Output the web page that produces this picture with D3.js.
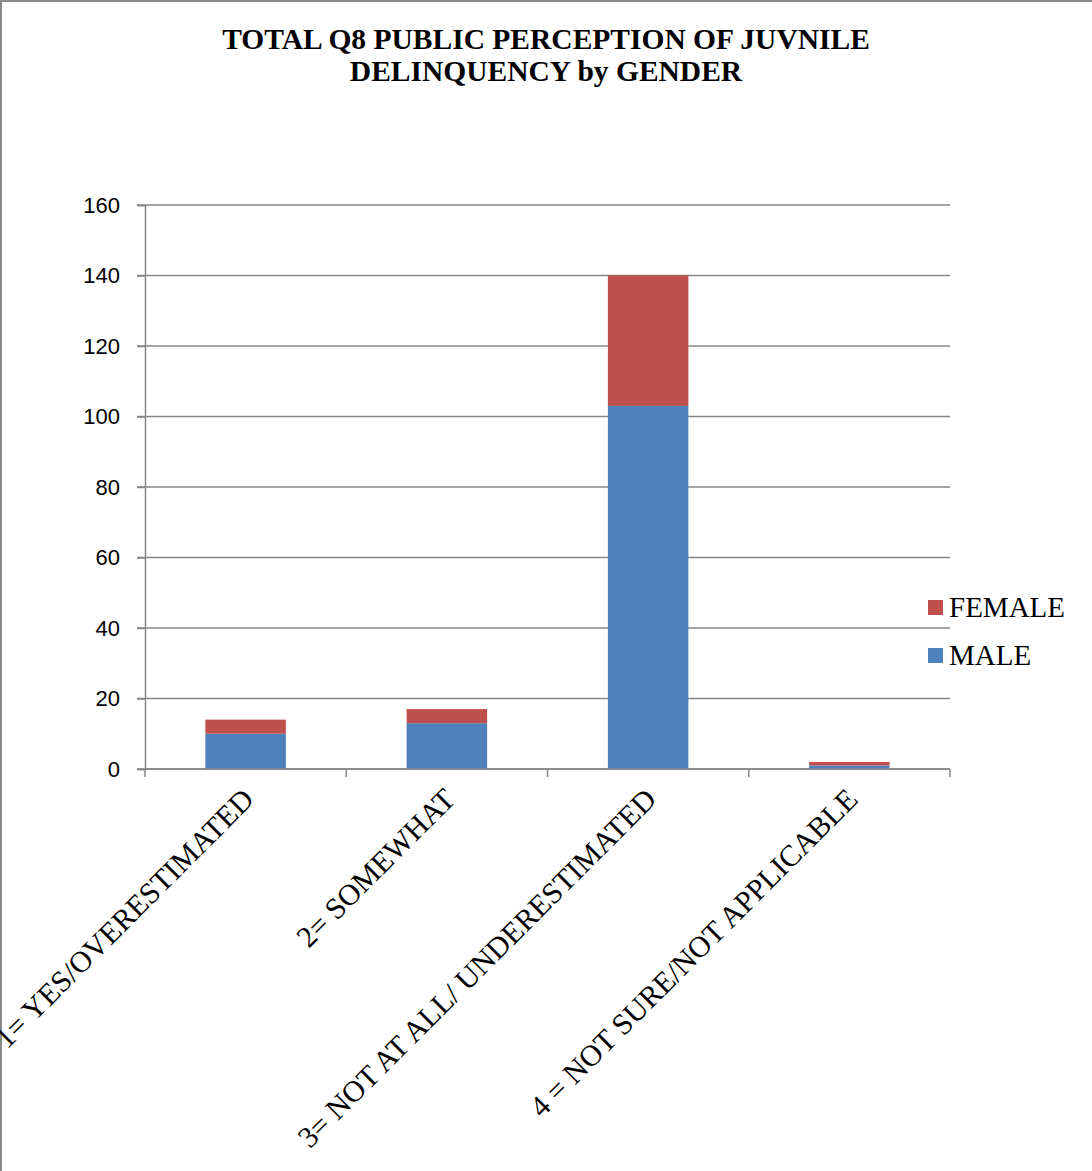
<!DOCTYPE html>
<html><head><meta charset="utf-8">
<script src="https://cdn.jsdelivr.net/npm/d3@7"></script>
<style>html,body{margin:0;padding:0;background:#fff;}</style>
</head><body>
<script>
const categories = ["1= YES/OVERESTIMATED","2= SOMEWHAT","3= NOT AT ALL/ UNDERESTIMATED","4 = NOT SURE/NOT APPLICABLE"];
const male = [10, 13, 103, 1];
const female = [4, 4, 37, 1];
const seriesNames = ["MALE","FEMALE"];
const yTicks = [0,20,40,60,80,100,120,140,160];
const titleLines = ["TOTAL Q8 PUBLIC PERCEPTION OF JUVNILE","DELINQUENCY by GENDER"];

const W=1092,H=1171;
const svg=d3.select("body").append("svg").attr("width",W).attr("height",H);
svg.append("rect").attr("width",W).attr("height",H).attr("fill","#fff");
// border (top & left visible)
svg.append("path").attr("d",`M1,${H+5} L1,1 L${W+5},1`).attr("fill","none").attr("stroke","#8a8a8a").attr("stroke-width",2);

const L=145,R=950,T=205,B=769;
const x=d3.scaleBand().domain(categories).range([L,R]).paddingInner(0.6).paddingOuter(0.3);
const y=d3.scaleLinear().domain([0,160]).range([B,T]);

const grey="#868686";
// gridlines
svg.append("g").selectAll("line").data(yTicks).join("line")
 .attr("x1",137).attr("x2",R).attr("y1",d=>y(d)).attr("y2",d=>y(d))
 .attr("stroke",grey).attr("stroke-width",1.5);

const data=categories.map((c,i)=>({cat:c,MALE:male[i],FEMALE:female[i]}));
const stack=d3.stack().keys(seriesNames)(data);
const colors={MALE:"#4F81BD",FEMALE:"#C0504D"};
svg.append("g").selectAll("g").data(stack).join("g").attr("fill",d=>colors[d.key])
 .selectAll("rect").data(d=>d).join("rect")
 .attr("x",d=>x(d.data.cat)).attr("width",x.bandwidth())
 .attr("y",d=>y(d[1])).attr("height",d=>y(d[0])-y(d[1]));

// y axis
const ya=svg.append("g").attr("transform",`translate(${L},0)`)
 .call(d3.axisLeft(y).tickValues(yTicks).tickSize(8).tickPadding(17));
ya.selectAll("path,line").attr("stroke",grey).attr("stroke-width",1.5);
ya.selectAll("text").attr("font-family","Liberation Sans, Arial, sans-serif").attr("font-size",22).attr("fill","#000");

// x axis
const step=(R-L)/categories.length;
const xa=svg.append("g");
xa.append("line").attr("x1",L).attr("x2",R).attr("y1",B).attr("y2",B).attr("stroke",grey).attr("stroke-width",1.5);
xa.selectAll("line.t").data(d3.range(categories.length+1)).join("line").attr("class","t")
 .attr("x1",i=>L+i*step).attr("x2",i=>L+i*step).attr("y1",B).attr("y2",B+8).attr("stroke",grey).attr("stroke-width",1.5);
xa.selectAll("text").data(categories).join("text")
 .attr("transform",d=>`translate(${x(d)+x.bandwidth()/2+10},${B+32}) rotate(-45)`)
 .attr("text-anchor","end")
 .attr("font-family","Liberation Serif, Times New Roman, serif").attr("font-size",30).attr("fill","#000")
 .text(d=>d);

// title
svg.append("g").selectAll("text").data(titleLines).join("text")
 .attr("x",546).attr("y",(d,i)=>49+i*32).attr("text-anchor","middle")
 .attr("font-family","Liberation Serif, Times New Roman, serif").attr("font-weight","bold").attr("font-size",29.5)
 .text(d=>d);

// legend
const leg=["FEMALE","MALE"];
const lg=svg.append("g").selectAll("g").data(leg).join("g").attr("transform",(d,i)=>`translate(928,${600+i*48})`);
lg.append("rect").attr("width",15).attr("height",15).attr("fill",d=>colors[d]);
lg.append("text").attr("x",21).attr("y",17).attr("font-family","Liberation Serif, Times New Roman, serif").attr("font-size",29).text(d=>d);
</script>
</body></html>
